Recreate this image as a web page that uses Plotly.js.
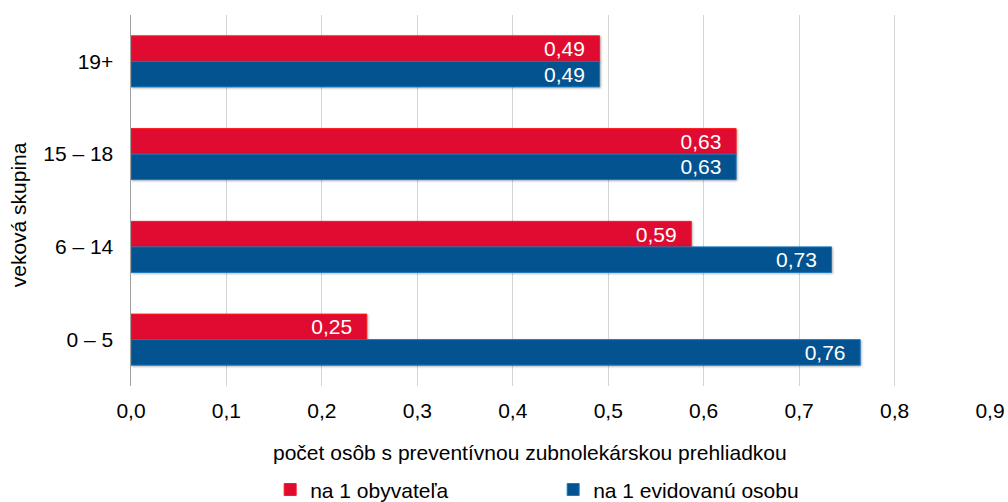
<!DOCTYPE html>
<html>
<head>
<meta charset="utf-8">
<script src="https://cdn.plot.ly/plotly-3.0.1.min.js"></script>
<style>
html,body{margin:0;padding:0;background:#fff;}
#chart{width:1008px;height:502px;}
#chart .bars .point path{filter:drop-shadow(1.5px 1.5px 1px rgba(0,0,0,0.28));}
</style>
</head>
<body>
<div id="chart"></div>
<script>
// Data
const categories = ['19+', '15 – 18', '6 – 14', '0 – 5'];
const perResident = [0.491, 0.634, 0.587, 0.247];      // na 1 obyvateľa
const perRegistered = [0.491, 0.634, 0.734, 0.764];    // na 1 evidovanú osobu
const seriesNames = ['na 1 obyvateľa', 'na 1 evidovanú osobu'];
const xTicks = [0, 0.1, 0.2, 0.3, 0.4, 0.5, 0.6, 0.7, 0.8, 0.9];
const xTitle = 'počet osôb s preventívnou zubnolekárskou prehliadkou';
const yTitle = 'veková skupina';

const font = 'Liberation Sans, Arial, sans-serif';
const pad = '\u00a0\u00a0';
const fs = 21;

function barTrace(name, values, fill, edge) {
  return {
    type: 'bar', orientation: 'h', name: name,
    y: categories, x: values,
    marker: {color: fill, line: {color: edge, width: 1}},
    texttemplate: '%{x:.2f}' + pad, textposition: 'inside', insidetextanchor: 'end',
    constraintext: 'none', textangle: 0,
    insidetextfont: {family: font, size: fs, color: '#ffffff'},
    hoverinfo: 'skip'
  };
}

const traces = [
  barTrace(seriesNames[0], perResident, '#E00B30', '#FF1A1A'),
  barTrace(seriesNames[1], perRegistered, '#02538F', '#1A78C2')
];

const layout = {
  width: 1008, height: 502,
  margin: {l: 131, r: 18, t: 15, b: 116, pad: 0, autoexpand: false},
  paper_bgcolor: '#ffffff', plot_bgcolor: '#ffffff',
  separators: ', ',
  font: {family: font, size: fs, color: '#000000'},
  barmode: 'group', bargap: 0.45, bargroupgap: 0,
  showlegend: true,
  legend: {
    orientation: 'h', x: 0.162, xanchor: 'left', y: -0.28, yanchor: 'middle',
    entrywidth: 238, entrywidthmode: 'pixels',
    font: {family: font, size: fs, color: '#000000'},
    itemwidth: 30, traceorder: 'normal'
  },
  xaxis: {
    range: [0, 0.9], tickvals: xTicks, tickformat: '.1f',
    showgrid: true, gridcolor: '#d4d4d4', gridwidth: 1,
    zeroline: false, showline: false, ticks: '',
    ticklabelstandoff: 10, automargin: false,
    tickfont: {family: font, size: fs, color: '#000000'},
    fixedrange: true
  },
  yaxis: {
    type: 'category', autorange: 'reversed',
    showgrid: false, zeroline: false,
    showline: true, linecolor: '#a0a0a0', linewidth: 1.5,
    ticks: '', ticklabelstandoff: 12, automargin: false,
    tickfont: {family: font, size: fs, color: '#000000'},
    fixedrange: true
  },
  annotations: [
    {text: xTitle, xref: 'paper', yref: 'paper', x: 0.4645, y: -0.178,
     xanchor: 'center', yanchor: 'middle', showarrow: false,
     font: {family: font, size: fs, color: '#000000'}},
    {text: yTitle, xref: 'paper', yref: 'paper', x: -0.130, y: 0.461, textangle: -90,
     xanchor: 'center', yanchor: 'middle', showarrow: false,
     font: {family: font, size: fs, color: '#000000'}}
  ]
};

Plotly.newPlot('chart', traces, layout, {staticPlot: true, displayModeBar: false});
</script>
</body>
</html>
